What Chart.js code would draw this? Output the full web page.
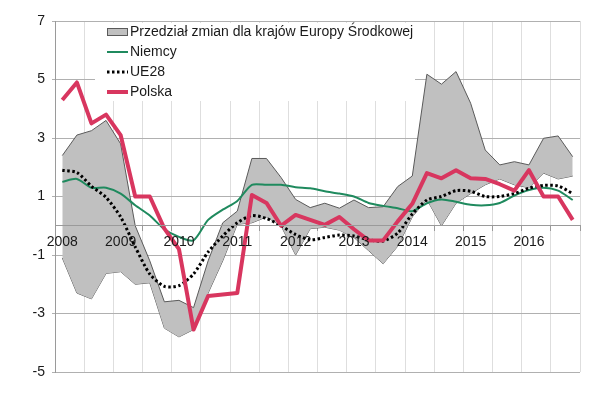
<!DOCTYPE html>
<html><head><meta charset="utf-8">
<script src="https://cdn.jsdelivr.net/npm/chart.js@4/dist/chart.umd.min.js"></script>
<style>html,body{margin:0;padding:0;background:#fff;}#wrap{width:610px;height:399px;}</style>
</head><body><div id="wrap"><canvas id="c" width="610" height="399"></canvas></div>
<script>
// ---- data ----
const yearLabels = ['2008','2009','2010','2011','2012','2013','2014','2015','2016'];
const quarters = [];
yearLabels.forEach(y => { for (let q = 1; q <= 4; q++) quarters.push(y + 'Q' + q); });
const yTickValues = [-5, -3, -1, 1, 3, 5, 7];
const bandName = 'Przedział zmian dla krajów Europy Środkowej';
const seriesNames = ['Niemcy', 'UE28', 'Polska'];

const bandMax = [2.4, 3.1, 3.25, 3.6, 2.8, 0.0, -1.2, -2.6, -2.55, -2.8, -1.2, 0.1,
                 0.5, 2.3, 2.3, 1.65, 0.9, 0.62, 0.77, 0.6, 0.88, 0.62, 0.65, 1.34,
                 1.7, 5.18, 4.84, 5.27, 4.19, 2.59, 2.08, 2.19, 2.08, 2.99, 3.07, 2.36];
const bandMin = [-1.1, -2.3, -2.5, -1.63, -1.57, -2.0, -1.95, -3.5, -3.8, -3.55, -2.3, -1.2,
                 0.05, 0.1, 0.3, 0.0, -1.0, -0.1, -0.05, -0.15, -0.4, -0.85, -1.3, -0.7,
                 0.3, 0.9, 0.0, 0.77, 1.1, 1.4, 1.6, 1.4, 1.3, 1.8, 1.6, 1.7];
const niemcy = [1.5, 1.6, 1.3, 1.3, 1.1, 0.7, 0.35, -0.12, -0.38, -0.5, 0.2, 0.55,
                0.85, 1.4, 1.4, 1.4, 1.32, 1.28, 1.18, 1.1, 1.0, 0.78, 0.68, 0.6,
                0.5, 0.77, 0.9, 0.82, 0.72, 0.7, 0.78, 1.03, 1.22, 1.3, 1.2, 0.88];
const ue28 = [1.9, 1.82, 1.35, 0.97, 0.3, -0.72, -1.65, -2.07, -2.05, -1.65, -0.9, -0.35,
              0.1, 0.35, 0.25, 0.0, -0.3, -0.48, -0.4, -0.32, -0.35, -0.48, -0.52, -0.25,
              0.4, 0.88, 1.0, 1.2, 1.18, 1.0, 1.0, 1.1, 1.28, 1.38, 1.36, 1.1];
const polska = [4.3, 4.9, 3.5, 3.8, 3.1, 1.0, 1.0, -0.1, -0.8, -3.55, -2.4, -2.35,
                -2.3, 1.05, 0.78, 0.0, 0.37, 0.2, 0.03, 0.3, -0.12, -0.5, -0.5, 0.15,
                0.75, 1.8, 1.62, 1.9, 1.62, 1.6, 1.42, 1.2, 1.9, 1.0, 1.0, 0.2];

// ---- styles ----
const RED = '#d8365f', GREEN = '#1f8a5e', BAND = '#c0c0c0', BAND_EDGE = '#5a5a5a';
const FONT = '"Liberation Sans", Arial, sans-serif';
const pts = arr => arr.map((v, i) => ({x: i + 0.5, y: v}));

const legendPlugin = {
  id: 'innerLegend',
  afterDraw(chart) {
    const ctx = chart.ctx;
    ctx.save();
    ctx.fillStyle = '#ffffff';
    ctx.fillRect(95, 23, 320, 78);
    const sx = 107, ex = 128, tx = 130;
    const rows = [32, 52, 72, 92];
    ctx.fillStyle = BAND; ctx.fillRect(sx, rows[0] - 3.5, ex - sx, 7);
    ctx.strokeStyle = BAND_EDGE; ctx.lineWidth = 1;
    ctx.strokeRect(sx + 0.5, rows[0] - 3.5, ex - sx - 1, 7);
    ctx.beginPath(); ctx.strokeStyle = GREEN; ctx.lineWidth = 2;
    ctx.moveTo(sx, rows[1]); ctx.lineTo(ex, rows[1]); ctx.stroke();
    ctx.beginPath(); ctx.strokeStyle = '#000'; ctx.lineWidth = 3; ctx.setLineDash([2.5, 2.5]);
    ctx.moveTo(sx, rows[2]); ctx.lineTo(ex, rows[2]); ctx.stroke(); ctx.setLineDash([]);
    ctx.beginPath(); ctx.strokeStyle = RED; ctx.lineWidth = 4;
    ctx.moveTo(sx, rows[3]); ctx.lineTo(ex, rows[3]); ctx.stroke();
    ctx.fillStyle = '#1a1a1a'; ctx.font = '14px ' + FONT; ctx.textBaseline = 'middle'; ctx.textAlign = 'left';
    const names = [bandName].concat(seriesNames);
    names.forEach((n, k) => ctx.fillText(n, tx, rows[k] + 0.5));
    ctx.restore();
  }
};

new Chart(document.getElementById('c'), {
  type: 'line',
  data: {
    datasets: [
      {label: seriesNames[2], data: pts(polska), borderColor: RED, borderWidth: 4, pointRadius: 0, tension: 0, fill: false, borderJoinStyle: 'round'},
      {label: seriesNames[1], data: pts(ue28), borderColor: '#000', borderWidth: 3, borderDash: [2.5, 2.5], pointRadius: 0, tension: 0.25, fill: false},
      {label: seriesNames[0], data: pts(niemcy), borderColor: GREEN, borderWidth: 2, pointRadius: 0, tension: 0.25, fill: false},
      {label: bandName, data: pts(bandMax), borderColor: BAND_EDGE, borderWidth: 1, backgroundColor: BAND, pointRadius: 0, tension: 0, fill: '+1'},
      {label: bandName + ' min', data: pts(bandMin), borderColor: BAND_EDGE, borderWidth: 1, pointRadius: 0, tension: 0, fill: false}
    ]
  },
  options: {
    responsive: false, animation: false, devicePixelRatio: 1,
    layout: {padding: {left: 0, right: 30, top: 21, bottom: 27}},
    plugins: {legend: {display: false}, tooltip: {enabled: false}},
    scales: {
      x: {
        type: 'linear', min: 0, max: quarters.length, position: {y: 0},
        afterBuildTicks: s => {
          const t = [];
          for (let k = 0; k <= quarters.length; k += 2) t.push({value: k});
          yearLabels.forEach((y, j) => t.push({value: 4 * j + 0.5}));
          t.sort((a, b) => a.value - b.value);
          s.ticks = t;
        },
        ticks: {
          z: 1, autoSkip: false, maxRotation: 0, padding: 3, color: '#1a1a1a', font: {size: 14, family: FONT},
          callback: v => (Math.abs((v - 0.5) % 4) < 1e-6 ? yearLabels[Math.round((v - 0.5) / 4)] : '')
        },
        grid: {
          color: c => (c.tick && Number.isInteger(c.tick.value) ? '#dedede' : 'rgba(0,0,0,0)'),
          tickColor: c => (c.tick && Number.isInteger(c.tick.value) ? '#9a9a9a' : 'rgba(0,0,0,0)'),
          tickLength: 5, lineWidth: 1
        },
        border: {display: true, color: '#9a9a9a', width: 1, z: 1}
      },
      y: {
        type: 'linear', min: -5, max: 7,
        afterBuildTicks: s => { s.ticks = yTickValues.map(v => ({value: v})); },
        afterFit: s => { s.width = 55; },
        ticks: {padding: 7, color: '#1a1a1a', font: {size: 14, family: FONT}},
        grid: {color: '#b0b0b0', tickLength: 3, lineWidth: 1},
        border: {display: true, color: '#9a9a9a', width: 1}
      }
    }
  },
  plugins: [legendPlugin]
});
</script></body></html>
